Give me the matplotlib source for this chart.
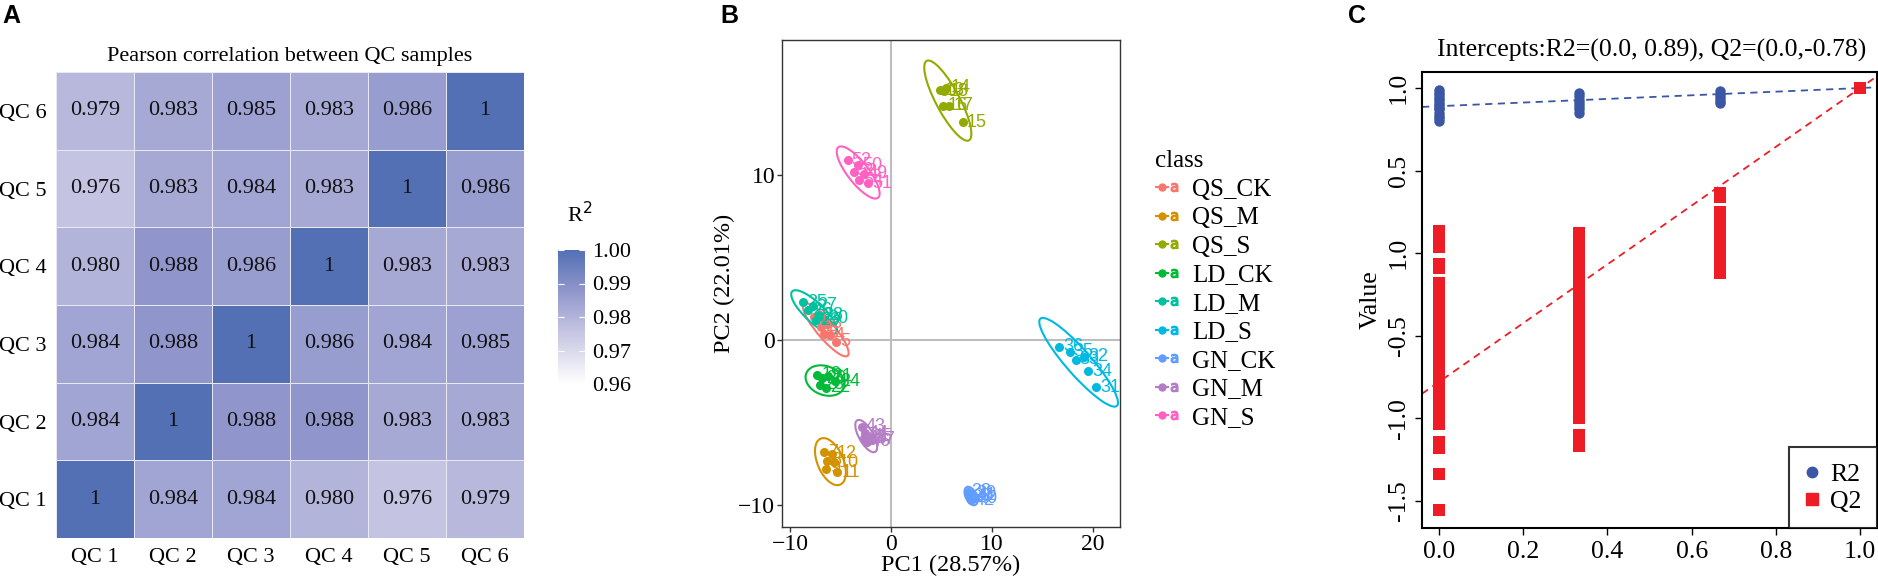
import numpy as np
import matplotlib
matplotlib.use('Agg')
import matplotlib.pyplot as plt
from matplotlib.colors import LinearSegmentedColormap, Normalize
from matplotlib.patches import Ellipse
from matplotlib.lines import Line2D
from matplotlib.legend_handler import HandlerTuple

W, H, DPI = 1878, 584, 100
plt.rcParams['font.family'] = ['Liberation Serif', 'DejaVu Serif']
SANS = ['Liberation Sans', 'DejaVu Sans']

# ---------------- data: panel A ----------------
qc_labels = ['QC 1', 'QC 2', 'QC 3', 'QC 4', 'QC 5', 'QC 6']
corr = [
    [1.000, 0.984, 0.984, 0.980, 0.976, 0.979],
    [0.984, 1.000, 0.988, 0.988, 0.983, 0.983],
    [0.984, 0.988, 1.000, 0.986, 0.984, 0.985],
    [0.980, 0.988, 0.986, 1.000, 0.983, 0.983],
    [0.976, 0.983, 0.984, 0.983, 1.000, 0.986],
    [0.979, 0.983, 0.985, 0.983, 0.986, 1.000],
]
cbar_ticks = [0.96, 0.97, 0.98, 0.99, 1.00]
cbar_ticklabels = ['0.96', '0.97', '0.98', '0.99', '1.00']

# ---------------- data: panel B ----------------
class_names = ['QS_CK', 'QS_M', 'QS_S', 'LD_CK', 'LD_M', 'LD_S', 'GN_CK', 'GN_M', 'GN_S']
qs_ck_pc1 = [-7.6, -6.9, -6.3, -6.0, -5.4, -6.6]
qs_ck_pc2 = [1.4, 0.8, 1.0, 0.3, -0.1, 0.4]
qs_ck_ids = [1, 2, 3, 4, 5, 6]
qs_m_pc1 = [-6.6, -6.3, -6.4, -5.6, -5.3, -5.8]
qs_m_pc2 = [-6.8, -7.3, -7.8, -7.4, -8.0, -6.9]
qs_m_ids = [7, 8, 9, 10, 11, 12]
qs_s_pc1 = [4.9, 5.5, 5.2, 5.8, 7.1, 5.3]
qs_s_pc2 = [15.15, 15.3, 14.2, 14.2, 13.2, 15.1]
qs_s_ids = [13, 14, 16, 17, 15, 18]
ld_ck_pc1 = [-7.3, -6.8, -6.2, -7.0, -5.5, -6.4]
ld_ck_pc2 = [-2.1, -2.3, -2.2, -2.7, -2.5, -2.9]
ld_ck_ids = [19, 20, 21, 23, 24, 22]
ld_m_pc1 = [-8.7, -8.2, -7.7, -7.1, -7.4, -6.6]
ld_m_pc2 = [2.3, 1.8, 2.1, 1.5, 1.2, 1.3]
ld_m_ids = [25, 26, 27, 28, 29, 30]
ld_s_pc1 = [16.7, 17.7, 18.3, 19.1, 19.5, 20.3]
ld_s_pc2 = [-0.4, -0.7, -1.2, -1.0, -1.9, -2.85]
ld_s_ids = [36, 35, 33, 32, 34, 31]
gn_ck_pc1 = [7.6, 8.0, 7.8, 8.2, 7.9, 8.1]
gn_ck_pc2 = [-9.2, -9.3, -9.5, -9.6, -9.7, -9.4]
gn_ck_ids = [38, 39, 37, 40, 42, 41]
gn_m_pc1 = [-2.9, -2.6, -2.2, -2.4, -1.9, -2.7]
gn_m_pc2 = [-5.25, -5.65, -5.85, -6.15, -6.05, -5.95]
gn_m_ids = [43, 44, 45, 46, 47, 48]
gn_s_pc1 = [-4.3, -3.3, -3.7, -2.7, -3.2, -2.3]
gn_s_pc2 = [10.9, 10.6, 10.2, 10.1, 9.7, 9.5]
gn_s_ids = [52, 50, 53, 49, 54, 51]
pc1_lists = [qs_ck_pc1, qs_m_pc1, qs_s_pc1, ld_ck_pc1, ld_m_pc1, ld_s_pc1, gn_ck_pc1, gn_m_pc1, gn_s_pc1]
pc2_lists = [qs_ck_pc2, qs_m_pc2, qs_s_pc2, ld_ck_pc2, ld_m_pc2, ld_s_pc2, gn_ck_pc2, gn_m_pc2, gn_s_pc2]
id_lists = [qs_ck_ids, qs_m_ids, qs_s_ids, ld_ck_ids, ld_m_ids, ld_s_ids, gn_ck_ids, gn_m_ids, gn_s_ids]
pc_xticks = [-10, 0, 10, 20]
pc_yticks = [-10, 0, 10]

# ---------------- data: panel C ----------------
perm_x = [0.0, 1/3, 2/3]
r2_perm_0 = [0.99, 0.97, 0.96, 0.94, 0.93, 0.91, 0.90, 0.88, 0.87, 0.85, 0.83, 0.82, 0.80]
r2_perm_1 = [0.97, 0.95, 0.93, 0.91, 0.89, 0.87, 0.85]
r2_perm_2 = [0.98, 0.96, 0.94, 0.92, 0.91]
q2_perm_0 = [0.137, 0.10, 0.07, 0.04, -0.064, -0.09, -0.18, -0.21, -0.24, -0.27, -0.30,
             -0.33, -0.36, -0.39, -0.42, -0.45, -0.48, -0.51, -0.54, -0.57, -0.60, -0.63,
             -0.66, -0.69, -0.72, -0.75, -0.78, -0.81, -0.84, -0.87, -0.90, -0.93, -0.96,
             -0.99, -1.02, -1.037, -1.143, -1.177, -1.34, -1.555]
q2_perm_1 = [0.124, 0.09, 0.06, 0.03, 0.0, -0.03, -0.06, -0.09, -0.12, -0.15, -0.18, -0.21,
             -0.24, -0.27, -0.30, -0.33, -0.36, -0.39, -0.42, -0.45, -0.48, -0.51, -0.54,
             -0.57, -0.60, -0.63, -0.66, -0.69, -0.72, -0.75, -0.78, -0.82, -0.89, -0.92,
             -0.95, -0.97, -1.0, -1.103, -1.135, -1.167]
q2_perm_2 = [0.363, 0.343, 0.252, 0.22, 0.19, 0.16, 0.13, 0.10, 0.07, 0.04, 0.01, -0.02,
             -0.05, -0.083, -0.117]
r2_orig, q2_orig = 1.0, 1.0
r2_intercept, q2_intercept = 0.89, -0.78
c_xticks = [0.0, 0.2, 0.4, 0.6, 0.8, 1.0]
c_xticklabels = ['0.0', '0.2', '0.4', '0.6', '0.8', '1.0']
c_yticks = [1.0, 0.5, 0.0, -0.5, -1.0, -1.5]
c_yticklabels = ['1.0', '0.5', '1.0', '-0.5', '-1.0', '-1.5']

# ---------------- layout helpers ----------------
fig = plt.figure(figsize=(W / DPI, H / DPI), dpi=DPI)


def ax_px(l, t, r, b):
    return fig.add_axes([l / W, 1 - b / H, (r - l) / W, (b - t) / H])


FS = 16

# ================= Panel A =================
cmap = LinearSegmentedColormap.from_list(
    'qc', [(0.0, '#FFFFFF'), (0.4, '#C4C3E2'), (0.7, '#9096CB'), (1.0, '#5470B5')])
norm = Normalize(vmin=0.96, vmax=1.0)
axA = ax_px(56, 72, 524, 538)
M = np.array(corr)
axA.pcolormesh(np.arange(7), np.arange(7), M, cmap=cmap, norm=norm,
               edgecolors='#E8E8F2', linewidth=0.6)
for i in range(6):
    for j in range(6):
        v = M[i, j]
        s = '1' if v == 1 else f'{v:.3f}'
        axA.text(j + 0.5, i + 0.5, s, ha='center', va='center', fontsize=FS, color='#111111')
axA.set_xlim(0, 6)
axA.set_ylim(0, 6)
axA.set_xticks(np.arange(6) + 0.5)
axA.set_xticklabels(qc_labels, fontsize=FS)
axA.set_yticks(np.arange(6) + 0.5)
axA.set_yticklabels(qc_labels, fontsize=FS)
axA.tick_params(length=0, pad=7)
for sp in axA.spines.values():
    sp.set_visible(False)
axA.set_title('Pearson correlation between QC samples', fontsize=FS, pad=8)

axCB = ax_px(558, 250, 585, 384)
grad = np.linspace(0.96, 1.0, 256).reshape(-1, 1)
axCB.imshow(grad, cmap=cmap, norm=norm, aspect='auto', origin='lower',
            extent=[0, 1, 0.96, 1.0])
axCB.set_xlim(0, 1)
axCB.set_ylim(0.96, 1.0)
axCB.set_xticks([])
axCB.set_yticks(cbar_ticks)
axCB.set_yticklabels(cbar_ticklabels, fontsize=FS)
axCB.tick_params(axis='y', left=True, right=True, labelleft=False, labelright=True,
                 direction='in', color='white', length=4, pad=5)
for sp in axCB.spines.values():
    sp.set_visible(False)
fig.text(567 / W, 1 - 215 / H, 'R$^2$', fontsize=FS, ha='left', va='center')

# ================= Panel B =================
class_colors = ['#F8766D', '#D39200', '#93AA00', '#00BA38', '#00C19F', '#00B9E3',
                '#619CFF', '#B57CC6', '#FF61C3']
axB = ax_px(782, 40, 1120, 527)
axB.axhline(0, color='#BEBEBE', lw=1.5, zorder=0)
axB.axvline(0, color='#BEBEBE', lw=1.5, zorder=0)
K = 3.0
for xs, ys, ids, col in zip(pc1_lists, pc2_lists, id_lists, class_colors):
    xs = np.array(xs); ys = np.array(ys)
    cov = np.cov(xs, ys)
    vals, vecs = np.linalg.eigh(cov)
    ang = np.degrees(np.arctan2(vecs[1, -1], vecs[0, -1]))
    e = Ellipse((xs.mean(), ys.mean()), 2 * K * np.sqrt(vals[-1]), 2 * K * np.sqrt(vals[0]),
                angle=ang, fill=False, edgecolor=col, lw=1.5, zorder=2)
    axB.add_patch(e)
    axB.plot(xs, ys, 'o', color=col, ms=5.5, zorder=3)
    for x, y, t in zip(xs, ys, ids):
        axB.annotate(str(t), (x, y), xytext=(3, 0), textcoords='offset points',
                     ha='left', va='center', fontsize=13, color=col, family=SANS, zorder=4)
axB.set_xlim(-10.8, 22.7)
axB.set_ylim(-11.33, 18.2)
axB.set_xticks(pc_xticks)
axB.set_yticks(pc_yticks)
axB.tick_params(labelsize=17, length=3.5, width=1, pad=1.5, color='#333333')
for sp in axB.spines.values():
    sp.set_color('#333333')
    sp.set_linewidth(1.0)
axB.set_xlabel('PC1 (28.57%)', fontsize=17.5, labelpad=0)
axB.set_ylabel('PC2 (22.01%)', fontsize=17.5, labelpad=2)

handles = [(Line2D([0], [0], color=c, lw=1.5, marker='o', ms=5),
            Line2D([0], [0], ls='none', marker='$\\mathsf{a}$', ms=6, color=c))
           for c in class_colors]
legB = fig.legend(handles, class_names, handler_map={tuple: HandlerTuple(ndivide=None)},
                  loc='upper left', bbox_to_anchor=(1143 / W, 1 - 138 / H), frameon=False,
                  title='class', fontsize=18, title_fontsize=18, handlelength=1.0,
                  handletextpad=0.45, labelspacing=0.24, borderpad=0, alignment='left')

# ================= Panel C =================
BLUE = '#3B56A5'
RED = '#EE1C25'
FSC = 18.5
axC = ax_px(1422, 72, 1877, 528)
axC.axline((0, r2_intercept), (1, r2_orig), color=BLUE, lw=1.3, ls=(0, (4, 3)), zorder=1)
axC.axline((0, q2_intercept), (1, q2_orig), color=RED, lw=1.3, ls=(0, (4, 3)), zorder=1)
for px, r2s in zip(perm_x, [r2_perm_0, r2_perm_1, r2_perm_2]):
    axC.plot([px] * len(r2s), r2s, 'o', color=BLUE, ms=7.5, mew=0, zorder=2)
axC.plot([1.0], [r2_orig], 'o', color=BLUE, ms=7.5, mew=0, zorder=2)
for px, q2s in zip(perm_x, [q2_perm_0, q2_perm_1, q2_perm_2]):
    axC.plot([px] * len(q2s), q2s, 's', color=RED, ms=8, mew=0, zorder=3)
axC.plot([1.0], [q2_orig], 's', color=RED, ms=8, mew=0, zorder=3)
axC.set_xlim(-0.04, 1.04)
axC.set_ylim(-1.664, 1.097)
axC.set_xticks(c_xticks)
axC.set_xticklabels(c_xticklabels, fontsize=FSC)
axC.set_yticks(c_yticks)
axC.set_yticklabels(c_yticklabels, fontsize=FSC, rotation=90, va='center')
axC.tick_params(length=5, width=1, pad=4)
for sp in axC.spines.values():
    sp.set_linewidth(1.5)
axC.set_ylabel('Value', fontsize=FSC, labelpad=4)
fig.text(1652 / W, 1 - 50 / H, 'Intercepts:R2=(0.0, 0.89), Q2=(0.0,-0.78)', fontsize=18.5,
         ha='center', va='center')
legC = axC.legend([Line2D([0], [0], ls='none', marker='o', color=BLUE, ms=7.5),
                   Line2D([0], [0], ls='none', marker='s', color=RED, ms=8)],
                  ['R2', 'Q2'], loc='lower right', bbox_to_anchor=(1.0, 0.0),
                  borderaxespad=0, fancybox=False, fontsize=FSC, handlelength=0.6,
                  handletextpad=0.4, labelspacing=0.15, borderpad=0.6)
legC.get_frame().set_edgecolor('black')
legC.get_frame().set_linewidth(1.5)

# ---------------- panel letters ----------------
for x, lab in [(2, 'A'), (720, 'B'), (1348, 'C')]:
    fig.text(x / W, 1 - 16 / H, lab, fontsize=18, fontweight='bold', family=SANS,
             ha='left', va='center')

fig.savefig('out.png', dpi=DPI)
